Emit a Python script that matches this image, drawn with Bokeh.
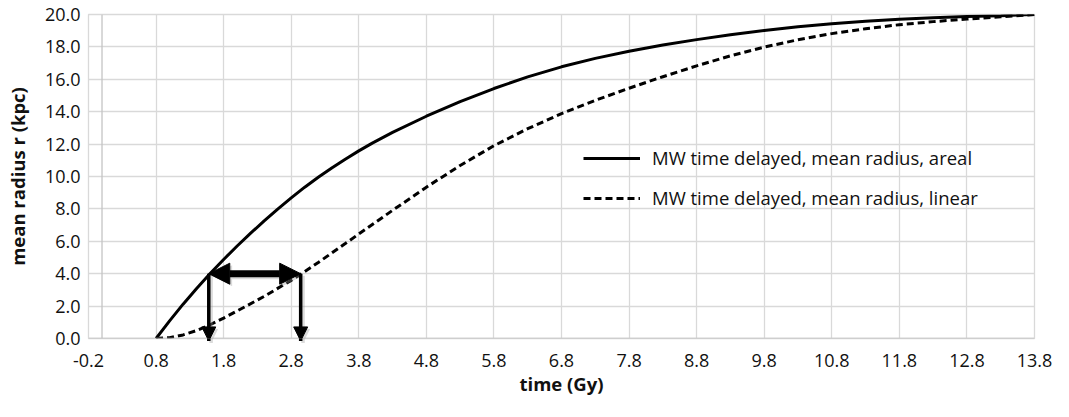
from bokeh.plotting import figure
from bokeh.models import (Range1d, FixedTicker, PrintfTickFormatter, Span, Arrow,
                          NormalHead, Legend, LegendItem)
from bokeh.embed import file_html
from bokeh.resources import INLINE

# time (Gy)
t_areal = [0.8, 1.0, 1.2, 1.4, 1.6, 1.8, 2.0, 2.2, 2.4, 2.6, 2.8, 3.0, 3.2, 3.4, 3.6, 3.8, 4.0,
           4.3, 4.8, 5.3, 5.8, 6.3, 6.8, 7.3, 7.8, 8.3, 8.8, 9.3, 9.8, 10.3, 10.8, 11.3, 11.8,
           12.3, 12.8, 13.3, 13.8]
r_areal = [0.0, 1.09, 2.12, 3.09, 4.01, 4.88, 5.71, 6.50, 7.26, 7.99, 8.68, 9.34, 9.95, 10.53,
           11.07, 11.58, 12.06, 12.72, 13.72, 14.62, 15.43, 16.15, 16.77, 17.29, 17.73, 18.12,
           18.45, 18.75, 19.01, 19.24, 19.43, 19.58, 19.70, 19.80, 19.87, 19.93, 20.0]

t_linear = [0.8, 1.0, 1.2, 1.4, 1.6, 1.8, 2.0, 2.4, 2.8, 3.0, 3.2, 3.6, 3.8, 4.3, 4.8, 5.3,
            5.8, 6.3, 6.8, 7.3, 7.8, 8.3, 8.8, 9.3, 9.8, 10.3, 10.8, 11.3, 11.8, 12.3, 12.8,
            13.3, 13.8]
r_linear = [0.0, 0.05, 0.22, 0.49, 0.85, 1.26, 1.70, 2.60, 3.59, 4.13, 4.69, 5.86, 6.45, 7.91,
            9.34, 10.68, 11.90, 12.95, 13.88, 14.70, 15.45, 16.16, 16.83, 17.45, 17.99, 18.44,
            18.82, 19.12, 19.37, 19.56, 19.72, 19.86, 20.0]

x_ticks = [-0.2, 0.8, 1.8, 2.8, 3.8, 4.8, 5.8, 6.8, 7.8, 8.8, 9.8, 10.8, 11.8, 12.8, 13.8]
y_ticks = [0, 2, 4, 6, 8, 10, 12, 14, 16, 18, 20]

label_areal = "MW time delayed, mean radius, areal"
label_linear = "MW time delayed, mean radius, linear"

# delay markers: radius level and times where each curve reaches it
r_level = 4.0
t_level_areal = 1.58
t_level_linear = 2.94

FONT = "Open Sans"

p = figure(width=1053, height=401, output_backend="svg", toolbar_location=None,
           x_range=Range1d(-0.2, 13.8), y_range=Range1d(0, 20),
           min_border_left=88, min_border_right=19, min_border_top=14, min_border_bottom=63)
p.background_fill_color = "white"
p.border_fill_color = "white"
p.outline_line_color = "#d9d9d9"
p.outline_line_width = 1.3

for ax in (p.xaxis[0], p.yaxis[0]):
    ax.axis_line_color = None
    ax.major_tick_line_color = None
    ax.minor_tick_line_color = None
    ax.major_tick_out = 0
    ax.major_tick_in = 0
    ax.minor_tick_out = 0
    ax.minor_tick_in = 0
    ax.major_label_text_font = FONT
    ax.major_label_text_font_size = "18px"
    ax.major_label_text_color = "#111111"
    ax.axis_label_text_font = FONT
    ax.axis_label_text_font_size = "18.5px"
    ax.axis_label_text_font_style = "bold"
    ax.axis_label_text_color = "#111111"

p.xaxis.ticker = FixedTicker(ticks=x_ticks)
p.yaxis.ticker = FixedTicker(ticks=y_ticks)
p.xaxis.formatter = PrintfTickFormatter(format="%.1f")
p.yaxis.formatter = PrintfTickFormatter(format="%.1f")
p.xaxis.axis_label = "time (Gy)"
p.yaxis.axis_label = "mean radius r (kpc)"
p.xaxis.major_label_standoff = 15
p.xaxis.axis_label_standoff = 1
p.yaxis.major_label_standoff = 8
p.yaxis.axis_label_standoff = 12

p.xgrid.grid_line_color = "#d9d9d9"
p.ygrid.grid_line_color = "#d9d9d9"
p.xgrid.grid_line_width = 1.3
p.ygrid.grid_line_width = 1.3

p.add_layout(Span(location=0, dimension="height", line_color="#c4c4c4", line_width=1.3))
p.add_layout(Span(location=0, dimension="width", line_color="#c4c4c4", line_width=1.5))

l1 = p.line(t_areal, r_areal, line_color="black", line_width=3)
l2 = p.line(t_linear, r_linear, line_color="black", line_width=3, line_dash="7 4")

# shadows
sx, sy = 0.035, -0.13
p.add_layout(Arrow(x_start=t_level_areal + sx, y_start=r_level + sy,
                   x_end=t_level_linear + sx, y_end=r_level + sy, line_width=7, line_color="#999999", line_alpha=0.35,
                   start=NormalHead(size=21, fill_color="#999999", fill_alpha=0.35, line_color=None),
                   end=NormalHead(size=21, fill_color="#999999", fill_alpha=0.35, line_color=None)))
for tt in (t_level_areal, t_level_linear):
    p.add_layout(Arrow(x_start=tt + sx, y_start=r_level + sy, x_end=tt + sx, y_end=-0.15 + sy,
                       line_width=3.5, line_color="#999999", line_alpha=0.35,
                       end=NormalHead(size=14, fill_color="#999999", fill_alpha=0.35, line_color=None)))

p.add_layout(Arrow(x_start=t_level_areal, y_start=r_level, x_end=t_level_linear, y_end=r_level,
                   line_width=7, line_color="black",
                   start=NormalHead(size=21, fill_color="black", line_color="black", line_width=1),
                   end=NormalHead(size=21, fill_color="black", line_color="black", line_width=1)))
for tt in (t_level_areal, t_level_linear):
    p.add_layout(Arrow(x_start=tt, y_start=r_level, x_end=tt, y_end=-0.15,
                       line_width=3.5, line_color="black",
                       end=NormalHead(size=14, fill_color="black", line_color="black", line_width=1)))

legend = Legend(items=[LegendItem(label=label_areal, renderers=[l1]),
                       LegendItem(label=label_linear, renderers=[l2])],
                location=(495, 128))
legend.border_line_color = None
legend.background_fill_alpha = 0
legend.padding = 0
legend.margin = 0
legend.glyph_width = 57
legend.glyph_height = 20
legend.label_height = 20
legend.spacing = 15
legend.label_standoff = 12
legend.label_text_font = FONT
legend.label_text_font_size = "18.5px"
legend.label_text_color = "#111111"
p.add_layout(legend, "center")

open("out.html", "w").write(file_html(p, INLINE))
